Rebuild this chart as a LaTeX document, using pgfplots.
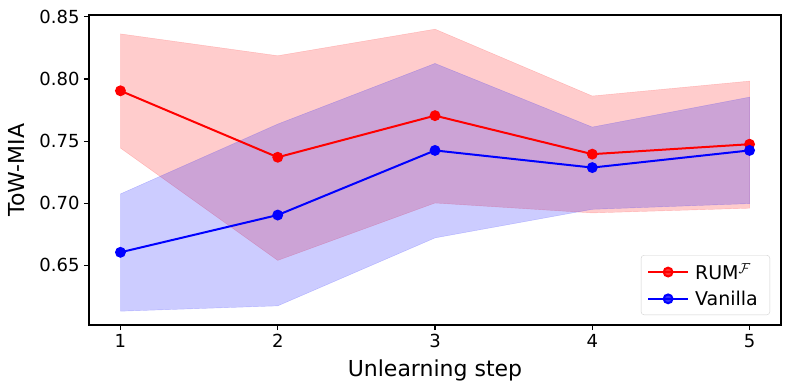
\documentclass[border=0pt]{standalone}
\usepackage{fontspec}
\setmainfont{DejaVu Sans}
\usepackage{pgfplots}
\pgfplotsset{compat=1.18}
\begin{document}
\begin{tikzpicture}[x=1pt,y=1pt]
\path[use as bounding box] (0,0) rectangle (790,389);
\begin{axis}[
  at={(89pt,64pt)}, anchor=south west,
  scale only axis, width=692pt, height=310pt,
  xmin=0.8, xmax=5.2, ymin=0.602, ymax=0.8515,
  xtick={1,2,3,4,5},
  ytick={0.65,0.70,0.75,0.80,0.85},
  xtick pos=bottom, ytick pos=left,
  yticklabel style={/pgf/number format/fixed, /pgf/number format/fixed zerofill, /pgf/number format/precision=2},
  /pgf/number format/assume math mode=true,
  tick align=outside, major tick length=5pt,
  tick style={black, line width=1.1pt},
  axis line style={line width=1.1pt},
  ticklabel style={font=\fontsize{18}{20}\selectfont},
  xticklabel style={yshift=-1pt},
  yticklabel style={xshift=-1pt},
  xlabel={Unlearning step}, ylabel={ToW-MIA},
  label style={font=\fontsize{22}{24}\selectfont},
  xlabel style={at={(axis description cs:0.5,-0.1677)}, anchor=base},
  ylabel style={at={(axis description cs:-0.0925,0.5)}, anchor=base},
  legend style={at={(axis description cs:1,0)}, anchor=south east,
    xshift=-11pt, yshift=10pt, draw=black!18, rounded corners=3pt,
    fill=white, fill opacity=0.8, text opacity=1,
    font=\fontsize{19}{21}\selectfont, row sep=6pt,
    inner xsep=6pt, inner ysep=6pt,
    nodes={inner xsep=6pt}},
  legend cell align=left,
  legend image code/.code={
    \draw[#1] (0pt,0pt) -- (40pt,0pt);
    \draw[#1, only marks] plot coordinates {(20pt,0pt)};
  },
]
% bands
\addplot[fill=red, fill opacity=0.2, draw=red, draw opacity=0.2, forget plot]
  coordinates {(1,0.8363) (2,0.8187) (3,0.8401) (4,0.7863) (5,0.7983)
               (5,0.6960) (4,0.6922) (3,0.7002) (2,0.6540) (1,0.7444)} -- cycle;
\addplot[fill=blue, fill opacity=0.2, draw=blue, draw opacity=0.2, forget plot]
  coordinates {(1,0.7075) (2,0.7637) (3,0.8125) (4,0.7613) (5,0.7854)
               (5,0.6997) (4,0.6951) (3,0.6721) (2,0.6174) (1,0.6131)} -- cycle;
% lines
\addplot[red, line width=2pt, mark=*, mark size=4.4pt]
  coordinates {(1,0.7905) (2,0.7370) (3,0.7705) (4,0.7395) (5,0.7475)};
\addlegendentry{RUM$^{\mathcal{F}}$}
\addplot[blue, line width=2pt, mark=*, mark size=4.4pt]
  coordinates {(1,0.6605) (2,0.6905) (3,0.7425) (4,0.7287) (5,0.7425)};
\addlegendentry{Vanilla}
\end{axis}
\end{tikzpicture}
\end{document}
